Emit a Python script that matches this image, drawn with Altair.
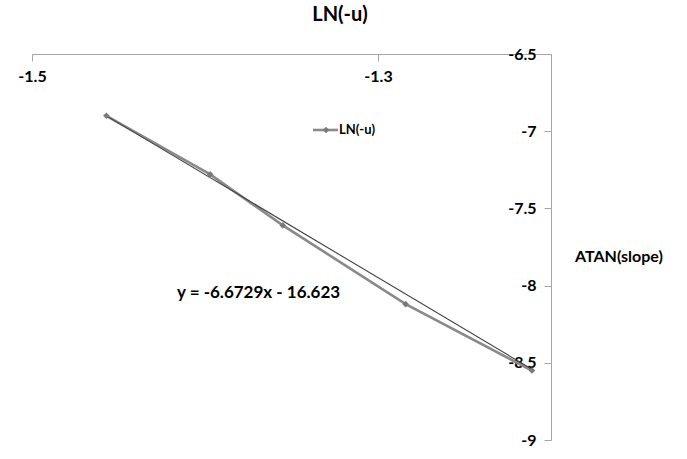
import altair as alt
import pandas as pd

# Series: ATAN(slope) on x, LN(-u) on y
x_vals = [-1.457, -1.397, -1.355, -1.284, -1.211]
y_vals = [-6.90, -7.28, -7.61, -8.12, -8.55]

# Linear trendline as stated in its label
slope = -6.6729
intercept = -16.623
equation = "y = -6.6729x - 16.623"

x_ticks = [-1.5, -1.3]
y_ticks = [-6.5, -7, -7.5, -8, -8.5, -9]
x_domain = [-1.5, -1.2]
y_domain = [-9, -6.5]

series_name = "LN(-u)"
x_title = "ATAN(slope)"
chart_title = "LN(-u)"

W, H = 519, 386
FONT = "Lato"

data = pd.DataFrame({"x": x_vals, "y": y_vals})
tx = [min(x_vals), max(x_vals)]
trend = pd.DataFrame({"x": tx, "y": [slope * v + intercept for v in tx]})

xs = alt.Scale(domain=x_domain, nice=False, zero=False)
ys = alt.Scale(domain=y_domain, nice=False, zero=False)

# plain hyphen-minus in the tick labels
plain_label = "'' + datum.value"

x_axis = alt.Axis(
    orient="bottom", offset=-H, values=x_ticks, labelExpr=plain_label, title=None,
    grid=False, domainColor="#a6a6a6", tickColor="#a6a6a6", tickSize=7,
    labelPadding=7, labelFont=FONT, labelFontSize=16, labelFontWeight="bold",
    labelColor="#000000", labelFlush=False,
)
y_axis = alt.Axis(
    orient="left", offset=-W, values=y_ticks, labelExpr=plain_label, title=None,
    grid=False, domainColor="#a6a6a6", tickColor="#a6a6a6", tickSize=7,
    labelPadding=8, labelFont=FONT, labelFontSize=16, labelFontWeight="bold",
    labelColor="#000000", labelFlush=False,
)

enc_x = alt.X("x:Q", scale=xs, axis=x_axis)
enc_y = alt.Y("y:Q", scale=ys, axis=y_axis)

trend_line = alt.Chart(trend).mark_line(color="#404040", strokeWidth=1.1).encode(
    x=alt.X("x:Q", scale=xs), y=alt.Y("y:Q", scale=ys)
)

series_line = alt.Chart(data).mark_line(color="#8a8a8a", strokeWidth=2.6).encode(
    x=enc_x, y=enc_y
)
series_pts = alt.Chart(data).mark_point(
    shape="diamond", filled=True, color="#7a7a7a", size=45, opacity=1
).encode(x=alt.X("x:Q", scale=xs), y=alt.Y("y:Q", scale=ys))

one = alt.Data(values=[{}])

legend_rule = alt.Chart(one).mark_rule(color="#8a8a8a", strokeWidth=2.6).encode(
    x=alt.value(281), x2=alt.value(306), y=alt.value(76)
)
legend_pt = alt.Chart(one).mark_point(
    shape="diamond", filled=True, color="#7a7a7a", size=40, opacity=1
).encode(x=alt.value(294), y=alt.value(76))
legend_txt = alt.Chart(one).mark_text(
    text=series_name, align="left", baseline="middle", font=FONT,
    fontSize=13, fontWeight="bold", color="#000000"
).encode(x=alt.value(307), y=alt.value(76))

eq_txt = alt.Chart(one).mark_text(
    text=equation, align="left", baseline="middle", font=FONT,
    fontSize=17, fontWeight="bold", color="#000000"
).encode(x=alt.value(145), y=alt.value(239))

xtitle_txt = alt.Chart(one).mark_text(
    text=x_title, align="left", baseline="middle", font=FONT,
    fontSize=16, fontWeight="bold", color="#000000"
).encode(x=alt.value(543), y=alt.value(203))

title_txt = alt.Chart(one).mark_text(
    text=chart_title, align="center", baseline="middle", font=FONT,
    fontSize=20, fontWeight="bold", color="#000000"
).encode(x=alt.value(308), y=alt.value(-39))

chart = alt.layer(
    series_line, trend_line, series_pts,
    legend_rule, legend_pt, legend_txt, eq_txt, xtitle_txt, title_txt
).properties(
    width=W, height=H,
    autosize=alt.AutoSizeParams(type="none"),
    padding={"left": 32, "top": 54, "right": 687 - 32 - W, "bottom": 459 - 54 - H},
    background="#ffffff",
).configure_view(stroke=None)

chart.save("out.html", embed_options={"renderer": "svg", "actions": False})
